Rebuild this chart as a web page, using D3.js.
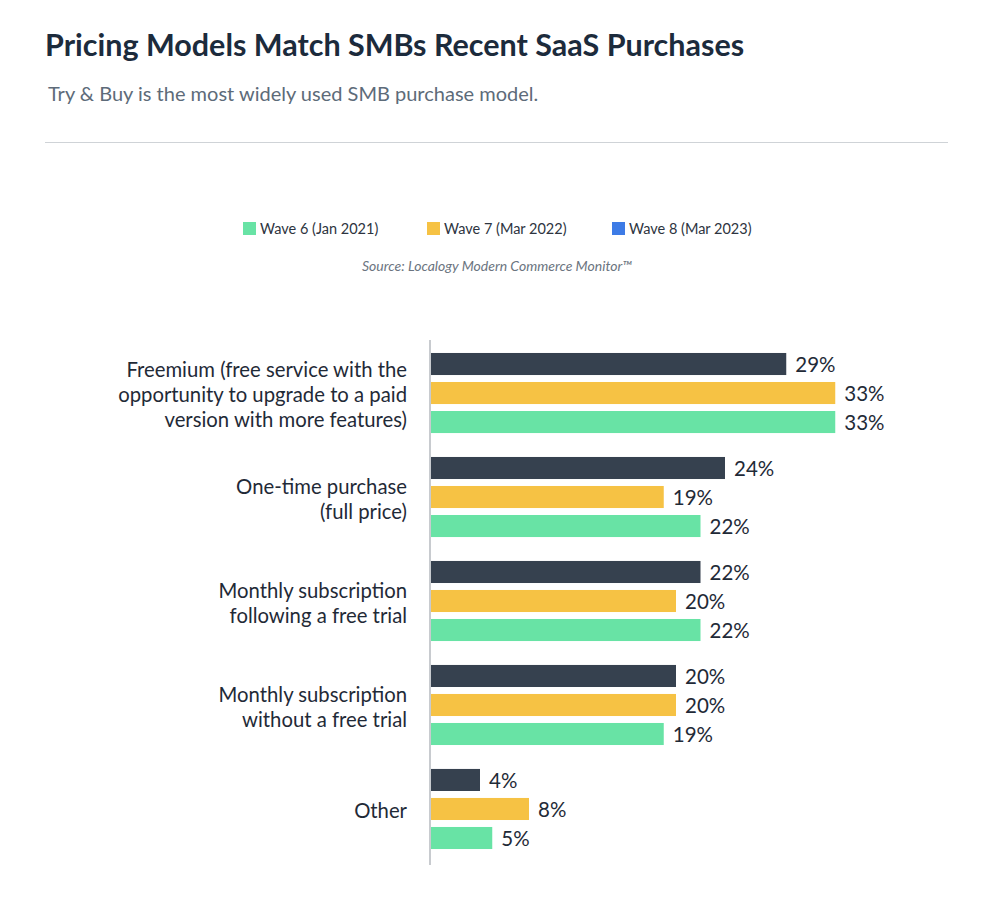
<!DOCTYPE html>
<html>
<head>
<meta charset="utf-8">
<script src="https://cdn.jsdelivr.net/npm/d3@7"></script>
<style>
    body { margin: 0; background: #fff; }
    svg { display: block; font-family: Lato, "Noto Sans", sans-serif; }
</style>
</head>
<body>
<script>
(function () {
    "use strict";

    // data
    var categories = [
        "Freemium (free service with the|opportunity to upgrade to a paid|version with more features)",
        "One-time purchase|(full price)",
        "Monthly subscription|following a free trial",
        "Monthly subscription|without a free trial",
        "Other"
    ];
    var wave6 = [33, 22, 22, 19, 5];
    var wave7 = [33, 19, 20, 20, 8];
    var wave8 = [29, 24, 22, 20, 4];

    var legendNames = ["Wave 6 (Jan 2021)", "Wave 7 (Mar 2022)", "Wave 8 (Mar 2023)"];
    var legendColors = ["#68e3a5", "#f6c244", "#3d7be6"];

    // bars top-to-bottom inside a group
    var barKeys = ["wave8", "wave7", "wave6"];
    var barColors = {wave8: "#36414f", wave7: "#f6c244", wave6: "#68e3a5"};
    var values = {wave6: wave6, wave7: wave7, wave8: wave8};

    var width = 1000, height = 900;

    var svg = d3.select("body").append("svg")
        .attr("width", width)
        .attr("height", height);

    // header
    svg.append("text")
        .attr("x", 45).attr("y", 56)
        .attr("font-size", 30.5).attr("font-weight", 700)
        .attr("fill", "#1c2b3c")
        .text("Pricing Models Match SMBs Recent SaaS Purchases");

    svg.append("text")
        .attr("x", 48).attr("y", 101)
        .attr("font-size", 20)
        .attr("fill", "#5d6b79")
        .text("Try & Buy is the most widely used SMB purchase model.");

    svg.append("line")
        .attr("x1", 45).attr("x2", 948)
        .attr("y1", 142.5).attr("y2", 142.5)
        .attr("stroke", "#cfd3d7").attr("stroke-width", 1);

    // legend
    var legendX = [243, 427, 612];
    var legend = svg.append("g").selectAll("g")
        .data(legendNames)
        .join("g")
        .attr("transform", function (d, i) { return "translate(" + legendX[i] + ",222)"; });

    legend.append("rect")
        .attr("width", 13).attr("height", 13)
        .attr("fill", function (d, i) { return legendColors[i]; });

    legend.append("text")
        .attr("x", 17).attr("y", 11.5)
        .attr("font-size", 14.5)
        .attr("fill", "#2d3440")
        .text(function (d) { return d; });

    svg.append("text")
        .attr("x", 497).attr("y", 271)
        .attr("text-anchor", "middle")
        .attr("font-size", 14).attr("font-style", "italic")
        .attr("fill", "#6b7480")
        .text("Source: Localogy Modern Commerce Monitor\u2122");

    // scales
    var x = d3.scaleLinear()
        .domain([0, 40])
        .range([431, 921]);

    var y = d3.scaleBand()
        .domain(categories)
        .range([340.5, 861.5])
        .paddingInner(0.23)
        .paddingOuter(0.12);

    var yInner = d3.scaleBand()
        .domain(barKeys)
        .range([0, y.bandwidth()])
        .paddingInner(0.24);

    var groups = svg.append("g").selectAll("g")
        .data(categories)
        .join("g")
        .attr("transform", function (d) { return "translate(0," + y(d) + ")"; });

    groups.selectAll("rect")
        .data(function (d, i) {
            return barKeys.map(function (k) { return {key: k, value: values[k][i]}; });
        })
        .join("rect")
        .attr("x", x(0))
        .attr("y", function (d) { return yInner(d.key); })
        .attr("width", function (d) { return x(d.value) - x(0); })
        .attr("height", yInner.bandwidth())
        .attr("fill", function (d) { return barColors[d.key]; });

    groups.selectAll("text.value")
        .data(function (d, i) {
            return barKeys.map(function (k) { return {key: k, value: values[k][i]}; });
        })
        .join("text")
        .attr("class", "value")
        .attr("x", function (d) { return x(d.value) + 9; })
        .attr("y", function (d) { return yInner(d.key) + yInner.bandwidth() / 2; })
        .attr("dy", "0.38em")
        .attr("font-size", 20.5)
        .attr("fill", "#1f2a37")
        .text(function (d) { return d.value + "%"; });

    // category labels
    var lineHeight = 25;
    groups.append("text")
        .attr("class", "category")
        .attr("text-anchor", "end")
        .attr("font-size", 20.3)
        .attr("fill", "#1f2a37")
        .each(function (d) {
            var lines = d.split("|");
            var t = d3.select(this);
            var start = y.bandwidth() / 2 + 2 - (lines.length - 1) * lineHeight / 2;
            lines.forEach(function (line, j) {
                t.append("tspan")
                    .attr("x", 407)
                    .attr("y", start + j * lineHeight)
                    .attr("dy", "0.36em")
                    .text(line);
            });
        });

    // axis line
    svg.append("line")
        .attr("x1", x(0) - 1).attr("x2", x(0) - 1)
        .attr("y1", 340).attr("y2", 865)
        .attr("stroke", "#c8cbcf").attr("stroke-width", 2);
})();
</script>
</body>
</html>
